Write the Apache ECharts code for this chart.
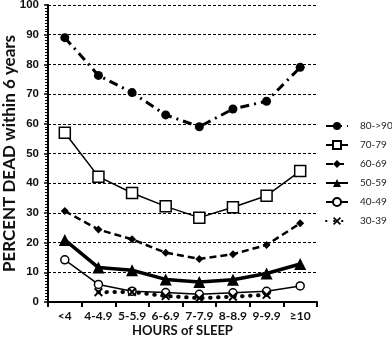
<!DOCTYPE html>
<html>
<head>
<meta charset="utf-8">
<script src="https://cdn.jsdelivr.net/npm/echarts@6/dist/echarts.min.js"></script>
<style>
  html, body { margin: 0; padding: 0; background: #fff; }
  #chart { width: 392px; height: 337px; }
</style>
</head>
<body>
<div id="chart"></div>
<script>
  // categories (hours of sleep)
  var hours = ['<4', '4-4.9', '5-5.9', '6-6.9', '7-7.9', '8-8.9', '9-9.9', '≥10'];
  var yTicks = [0, 10, 20, 30, 40, 50, 60, 70, 80, 90, 100];

  // percent dead within 6 years, by age group
  var age80 = [89, 76.3, 70.5, 63, 59, 65, 67.6, 79];
  var age70 = [57, 42.2, 36.7, 32.2, 28.4, 31.9, 35.8, 44.1];
  var age60 = [30.6, 24.4, 21.1, 16.6, 14.5, 16.1, 19.2, 26.5];
  var age50 = [20.9, 11.6, 10.7, 7.6, 6.7, 7.5, 9.6, 12.8];
  var age40 = [14.2, 5.9, 3.6, 3.2, 2.6, 3.1, 3.6, 5.4];
  var age30 = [null, 3.3, 3.4, 2.0, 1.3, 1.8, 2.4, null];

  var xMark = 'path://M0,1.5L1.5,0L5,3.5L8.5,0L10,1.5L6.5,5L10,8.5L8.5,10L5,6.5L1.5,10L0,8.5L3.5,5Z';

  function line(name, data, lineType, width, symbol, size, fill, cap) {
    return {
      name: name,
      type: 'line',
      data: data,
      symbol: symbol,
      symbolSize: size,
      showAllSymbol: true,
      connectNulls: false,
      lineStyle: { color: '#000', width: width, type: lineType, cap: cap || 'butt' },
      itemStyle: { color: fill, borderColor: '#000', borderWidth: fill === '#fff' ? 1.5 : 0 },
      emphasis: { disabled: true }
    };
  }

  var myChart = echarts.init(document.getElementById('chart'));

  myChart.setOption({
    animation: false,
    grid: { left: 48, right: 75, top: 5, bottom: 35, containLabel: false, outerBoundsMode: 'none' },
    legend: {
      orient: 'vertical',
      left: 325,
      top: 121,
      padding: 0,
      itemWidth: 22,
      itemHeight: 10,
      itemGap: 9,
      textStyle: { fontSize: 10, color: '#222', fontFamily: 'Lato', padding: [0, 0, 0, 7] },
      data: ['80->90', '70-79', '60-69', '50-59', '40-49', '30-39']
    },
    xAxis: {
      type: 'category',
      data: hours,
      boundaryGap: true,
      name: 'HOURS of SLEEP',
      nameLocation: 'middle',
      nameGap: 22,
      nameMoveOverlap: false,
      nameTextStyle: { fontSize: 13, fontWeight: 'bold', fontFamily: 'Lato', color: '#111' },
      axisLine: { lineStyle: { color: '#000', width: 2 } },
      axisTick: { show: true, length: 5, lineStyle: { color: '#000', width: 2 } },
      axisLabel: { interval: 0, fontSize: 12, fontWeight: 'bold', fontFamily: 'Lato', color: '#111', margin: 8 },
      splitLine: { show: false }
    },
    yAxis: {
      type: 'value',
      min: yTicks[0],
      max: yTicks[yTicks.length - 1],
      interval: 10,
      name: 'PERCENT DEAD within 6 years',
      nameLocation: 'middle',
      nameGap: 30,
      nameMoveOverlap: false,
      nameTextStyle: { fontSize: 17, fontWeight: 'bold', fontFamily: 'Lato', color: '#111' },
      axisLine: { show: true, lineStyle: { color: '#000', width: 2 } },
      axisTick: { show: true, length: 4, lineStyle: { color: '#000', width: 1.5 } },
      minorTick: { show: true, splitNumber: 10, length: 3, lineStyle: { color: '#000', width: 1 } },
      axisLabel: { fontSize: 11.5, fontWeight: 'bold', fontFamily: 'Liberation Sans', color: '#111', margin: 9 },
      splitLine: { show: true, lineStyle: { color: '#000', width: 1, type: [3, 2] } }
    },
    series: [
      line('80->90', age80, [9, 5, 2, 5], 3, 'circle', 9, '#000'),
      line('70-79', age70, 'solid', 1.5, 'rect', 11, '#fff'),
      line('60-69', age60, [7, 4], 2.5, 'diamond', 8, '#000'),
      line('50-59', age50, 'solid', 3.5, 'triangle', 12, '#000'),
      line('40-49', age40, 'solid', 1.5, 'circle', 8, '#fff'),
      line('30-39', age30, [0.5, 7.5], 4, xMark, 9, '#000', 'round')
    ]
  });
</script>
</body>
</html>
